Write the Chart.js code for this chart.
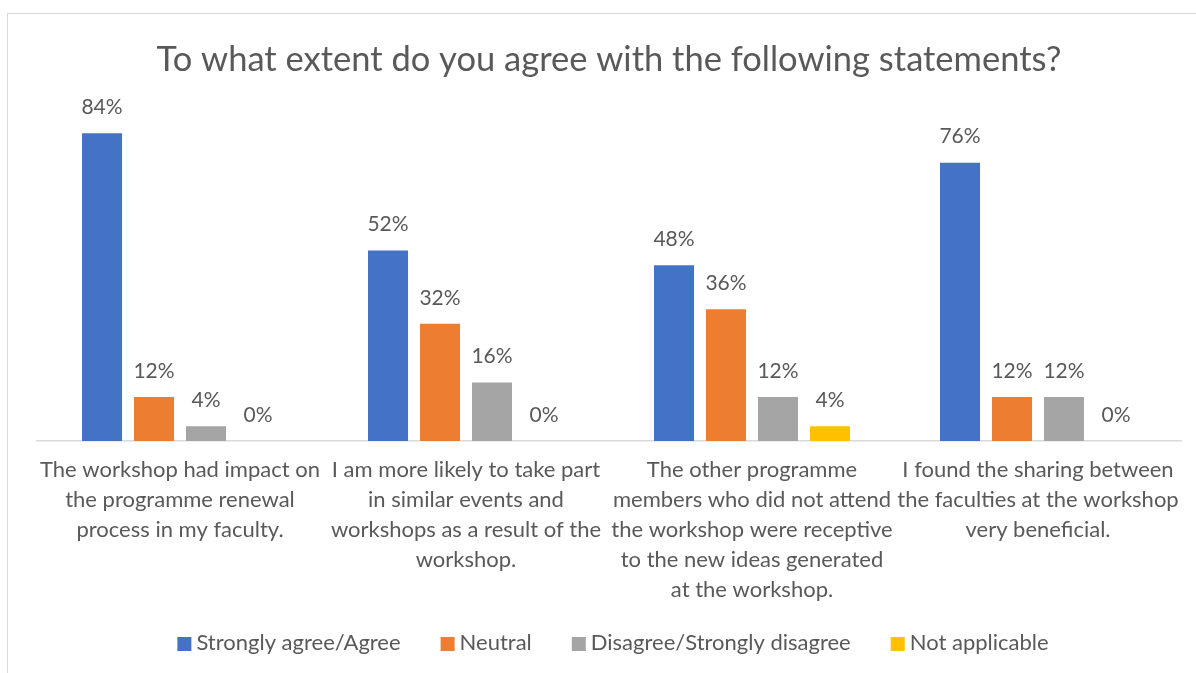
<!DOCTYPE html>
<html><head><meta charset="utf-8">
<script src="https://cdn.jsdelivr.net/npm/chart.js@4.4.1/dist/chart.umd.min.js"></script>
<style>
html,body{margin:0;padding:0;width:1196px;height:673px;overflow:hidden;background:#fff;}
#frame{position:absolute;left:7px;top:13px;width:1400px;height:900px;border:1px solid #d9d9d9;box-sizing:border-box;}
#wrap{position:absolute;left:0;top:0;width:1196px;height:673px;}
</style></head>
<body>
<div id="frame"></div>
<div id="wrap"><canvas id="c" width="1196" height="673"></canvas></div>
<script>
const categories = [
  ["The workshop had impact on","the programme renewal","process in my faculty."],
  ["I am more likely to take part","in similar events and","workshops as a result of the","workshop."],
  ["The other programme","members who did not attend","the workshop were receptive","to the new ideas generated","at the workshop."],
  ["I found the sharing between","the faculties at the workshop","very beneficial."]
];
const seriesNames = ["Strongly agree/Agree","Neutral","Disagree/Strongly disagree","Not applicable"];
const agree = [84,52,48,76];
const neutral = [12,32,36,12];
const disagree = [4,16,12,12];
const notApplicable = [0,0,4,0];
const colors = ["#4472C4","#ED7D31","#A5A5A5","#FFC000"];
const FONT = "Lato, 'Open Sans', sans-serif";
const TXT = "#595959";

const labelPlugin = {
  id:'barLabels',
  afterDatasetsDraw(chart){
    const ctx = chart.ctx;
    ctx.save();
    ctx.font = "21px " + FONT;
    ctx.fillStyle = TXT;
    ctx.textAlign = 'center';
    ctx.textBaseline = 'middle';
    chart.data.datasets.forEach((ds,i)=>{
      const meta = chart.getDatasetMeta(i);
      if(meta.hidden) return;
      meta.data.forEach((bar,j)=>{
        ctx.fillText(ds.data[j]+'%', bar.x, bar.y-26);
      });
    });
    ctx.restore();
  }
};

// legend drawn below the axis labels, centred, Excel-like spacing
const legendPlugin = {
  id:'excelLegend',
  afterDraw(chart){
    const ctx = chart.ctx;
    const box = 14, gapText = 5, gapItem = 40, cx = 613, cy = 643;
    ctx.save();
    ctx.font = "22px " + FONT;
    ctx.textBaseline = 'middle';
    ctx.textAlign = 'left';
    const items = chart.data.datasets.map(ds=>({t:ds.label,c:ds.backgroundColor,w:ctx.measureText(ds.label).width}));
    let total = items.reduce((s,it)=>s+box+gapText+it.w,0) + gapItem*(items.length-1);
    let x = cx - total/2;
    items.forEach(it=>{
      ctx.fillStyle = it.c;
      ctx.fillRect(x, cy - box/2 + 1, box, box);
      ctx.fillStyle = TXT;
      ctx.fillText(it.t, x + box + gapText, cy);
      x += box + gapText + it.w + gapItem;
    });
    ctx.restore();
  }
};

new Chart(document.getElementById('c'),{
  type:'bar',
  data:{
    labels:categories,
    datasets:[agree,neutral,disagree,notApplicable].map((d,i)=>({
      label:seriesNames[i], data:d, backgroundColor:colors[i],
      categoryPercentage:0.727, barPercentage:0.77
    }))
  },
  options:{
    responsive:false, animation:false,
    layout:{padding:{left:37,right:15,top:0,bottom:68}},
    plugins:{
      title:{display:true,text:"To what extent do you agree with the following statements?",
        color:TXT,font:{family:FONT,size:34.5,weight:'normal',lineHeight:1.2},padding:{top:39,bottom:31}},
      legend:{display:false},
      tooltip:{enabled:false}
    },
    scales:{
      x:{grid:{display:false,drawTicks:false},border:{display:true,color:'#d9d9d9',width:1.5},
        ticks:{color:TXT,font:{family:FONT,size:22,lineHeight:30/22},maxRotation:0,autoSkip:false,padding:14},
        afterFit(scale){ scale.height = 164; }},
      y:{display:false,min:0,max:90}
    }
  },
  plugins:[labelPlugin, legendPlugin]
});
</script>
</body></html>
